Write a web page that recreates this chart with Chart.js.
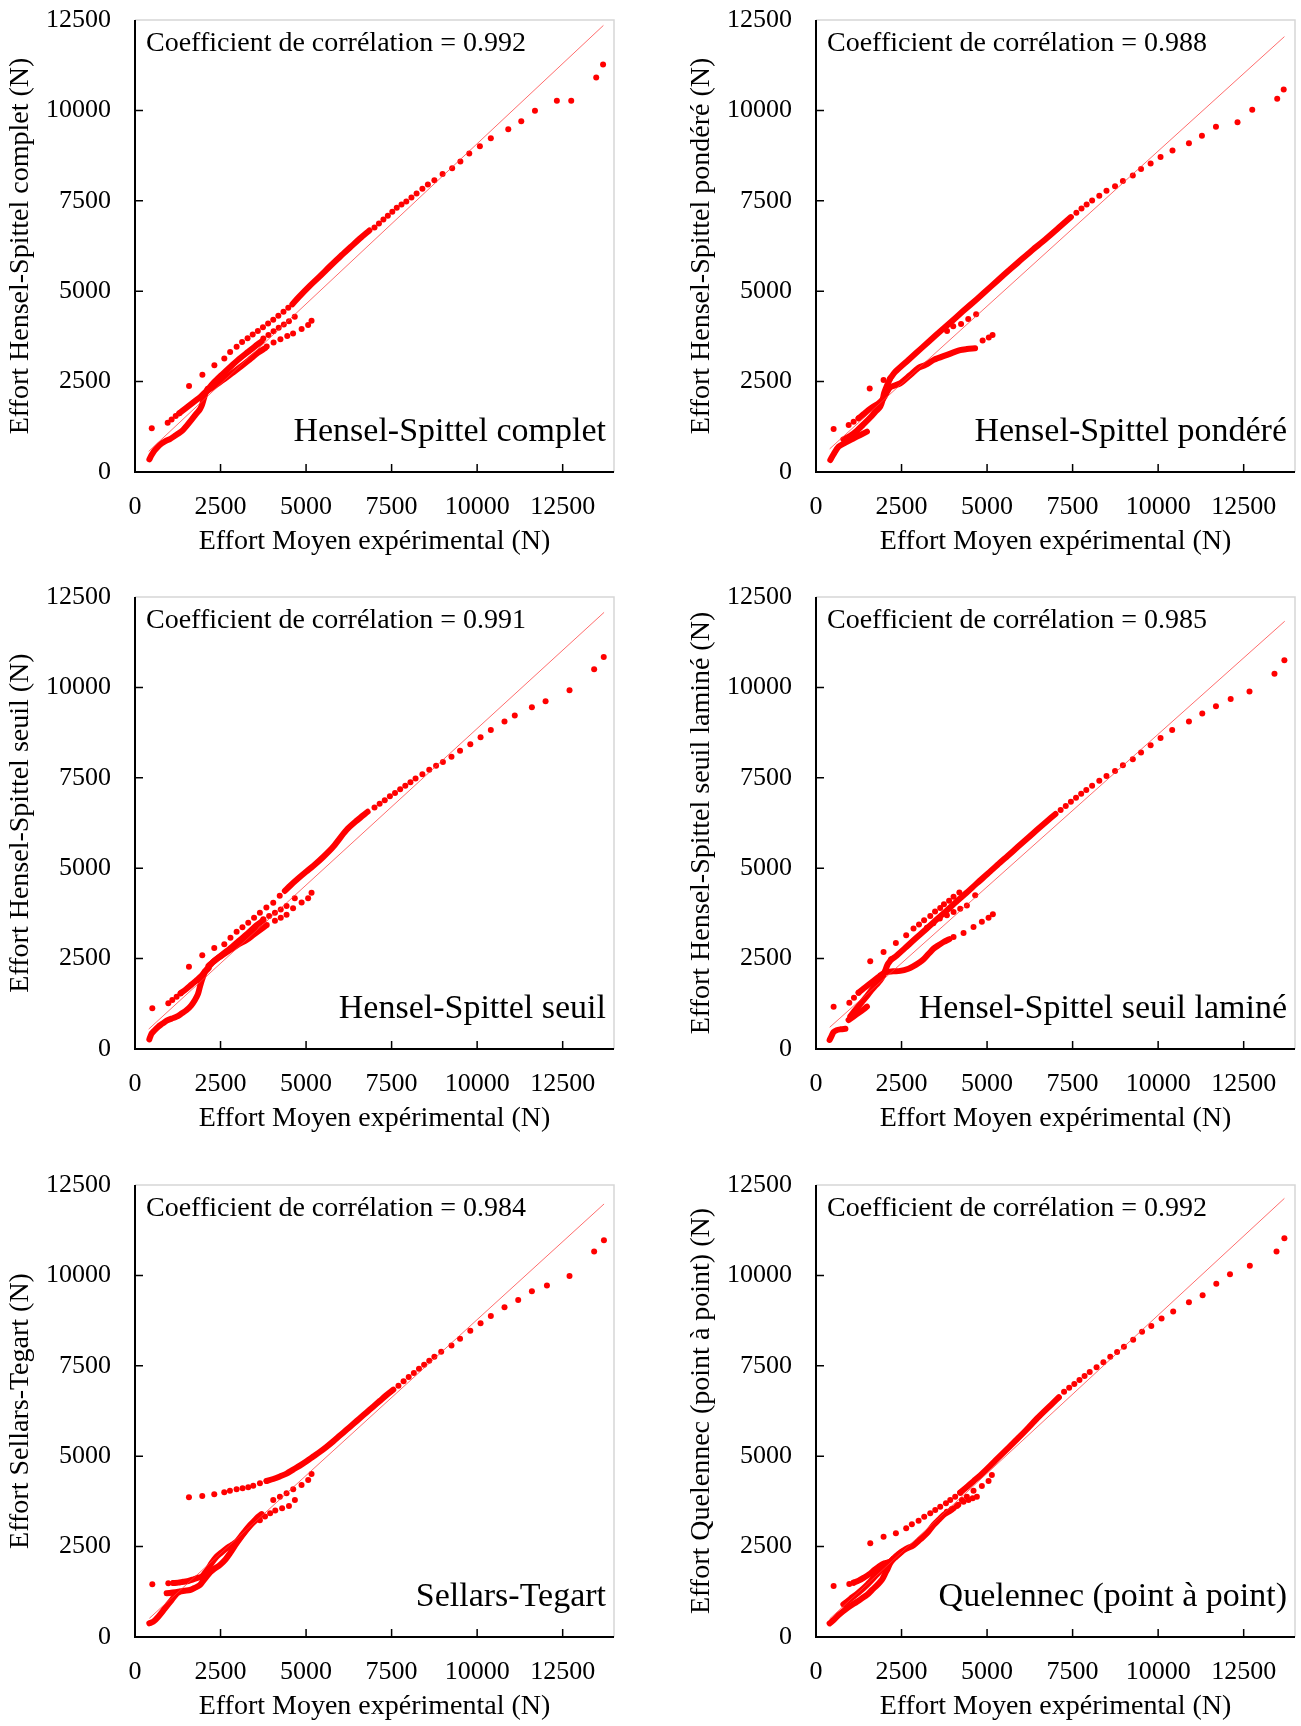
<!DOCTYPE html>
<html>
<head>
<meta charset="utf-8">
<script src="https://cdn.jsdelivr.net/npm/chart.js@4"></script>
<style>
  html, body { margin: 0; padding: 0; background: #fff; overflow: hidden; }
  canvas { position: absolute; }
</style>
</head>
<body>
<canvas id="c1" width="620" height="560" style="left:0;top:0"></canvas>
<canvas id="c2" width="620" height="560" style="left:681px;top:0"></canvas>
<canvas id="c3" width="620" height="560" style="left:0;top:577px"></canvas>
<canvas id="c4" width="620" height="560" style="left:681px;top:577px"></canvas>
<canvas id="c5" width="620" height="560" style="left:0;top:1165px"></canvas>
<canvas id="c6" width="620" height="560" style="left:681px;top:1165px"></canvas>
<script>
// axis ticks
const xTicks = [0, 2500, 5000, 7500, 10000, 12500];
const yTicks = [0, 2500, 5000, 7500, 10000, 12500];

// ---- Hensel-Spittel complet ----
const hscFit = [[400, 570], [13690, 12350]];
const hscDots = [[490,1210],[955,1365],[1070,1455],[1190,1550],[1295,1625],
  [1580,2380],[1970,2690],[2320,2950],[2610,3140],[2780,3320],[2970,3465],[3130,3595],[3290,3700],[3440,3800],[3590,3900],[3740,4000],[3890,4110],[4040,4210],[4190,4320],[4340,4430],[4480,4540]];
const hscMidDots = [[3750,3690],[3900,3790],[4050,3890],[4200,3990],[4350,4080],[4500,4170],[4670,4290]];
const hscLowDots = [[3850,3470],[4050,3580],[4250,3670],[4450,3760],[4620,3830],[4870,3955],[5060,4065],[5160,4185]];
const hscTail = [[7000,6760],[7130,6870],[7260,6980],[7390,7090],[7520,7200],[7650,7310],[7790,7400],[7930,7480],[8080,7590],[8230,7700],[8400,7830],[8560,7950],[8750,8070],[8990,8240],[9270,8400],[9510,8590],[9770,8810],[10080,9010],[10400,9230],[10910,9480],[11290,9700],[11690,9990],[12330,10270],[12750,10270],[13480,10910],[13680,11270]];
const hscLower = [[420,350],[480,460],[560,580],[660,690],[780,790],[900,860],[1020,910],[1150,990],[1280,1070],[1400,1160],[1520,1290],[1650,1440],[1800,1620],[1900,1740],[1960,1860],[2010,2020],[2060,2170],[2120,2300]];
const hscLeft = [[1295,1625],[1450,1740],[1600,1850],[1750,1960],[1900,2070],[2020,2180],[2100,2240]];
const hscMain = [[2100,2250],[2300,2470],[2550,2700],[2800,2920],[3050,3130],[3300,3320],[3500,3470],[3700,3610]];
const hscLow = [[2100,2230],[2350,2400],[2600,2560],[2850,2740],[3100,2920],[3350,3110],[3600,3300],[3800,3420]];
const hscUpper = [[4600,4640],[4800,4850],[5100,5140],[5400,5410],[5700,5690],[6000,5960],[6300,6220],[6600,6480],[6850,6680]];

// ---- Hensel-Spittel pondéré ----
const hspFit = [[400, 640], [13690, 12040]];
const hspDots = [[515,1190],[955,1300],[1100,1390],[1245,1485],[1570,2310],[1975,2545]];
const hspMidDots = [[3830,3900],[4010,4030],[4240,4090],[4450,4230],[4680,4360]];
const hspLowDots = [[4870,3640],[5050,3720],[5160,3790]];
const hspTail = [[7610,7170],[7760,7290],[7910,7400],[8070,7510],[8280,7640],[8490,7780],[8740,7900],[8970,8050],[9260,8200],[9500,8380],[9780,8530],[10070,8710],[10420,8890],[10900,9090],[11280,9300],[11690,9550],[12320,9670],[12750,10020],[13480,10320],[13670,10580]];
const hspLowest = [[418,332],[520,500],[661,700],[857,811],[1102,931],[1295,1023],[1489,1115]];
const hspSCurve = [[800,900],[1000,1000],[1200,1150],[1400,1330],[1600,1520],[1750,1680],[1880,1810],[1950,2000],[1990,2180],[2080,2400],[2170,2590]];
const hspLeft = [[1245,1485],[1390,1600],[1530,1710],[1680,1810],[1830,1900],[1975,2040],[2170,2340],[2460,2450],[2750,2680],[3000,2880],[3200,2960],[3440,3100],[3830,3240],[4210,3370],[4410,3400],[4650,3420]];
const hspUpper = [[2170,2590],[2320,2775],[2700,3100],[3100,3440],[3500,3780],[3900,4110],[4300,4450],[4700,4780],[5100,5120],[5500,5460],[5900,5790],[6300,6120],[6700,6430],[7100,6760],[7450,7050]];

// ---- Hensel-Spittel seuil ----
const hssFit = [[400, 550], [13710, 12075]];
const hssDots = [[506,1125],[974,1263],[1090,1355],[1217,1447],[1334,1539],
  [1577,2277],[1966,2590],[2317,2790],[2610,2900],[2790,3080],[2970,3245],[3140,3370],[3310,3494],[3480,3630],[3650,3771],[3840,3910],[4040,4047],[4230,4240]];
const hssMidDots = [[3750,3590],[3920,3680],[4090,3770],[4260,3860],[4430,3955],[4670,4170]];
const hssLowDots = [[3850,3430],[4090,3550],[4260,3630],[4430,3710],[4620,3890],[4870,4050],[5060,4170],[5160,4320]];
const hssTail = [[7000,6680],[7150,6780],[7300,6880],[7450,6990],[7600,7080],[7750,7180],[7900,7280],[8050,7380],[8200,7480],[8400,7600],[8600,7720],[8800,7830],[9000,7940],[9250,8080],[9500,8250],[9800,8430],[10100,8620],[10400,8820],[10800,9060],[11100,9220],[11600,9450],[12000,9620],[12700,9920],[13420,10500],[13700,10840]];
const hssLower = [[419,267],[480,420],[535,480],[681,618],[800,700],[925,784],[1070,840],[1217,894],[1360,980],[1509,1079],[1640,1200],[1752,1355],[1840,1520],[1898,1724],[1960,1920],[2044,2139]];
const hssLeft = [[1334,1539],[1500,1660],[1650,1780],[1800,1900],[1950,2030],[2044,2139],[2150,2230]];
const hssMain = [[2044,2139],[2288,2415],[2500,2560],[2775,2738],[3000,2880],[3261,3014],[3450,3150],[3651,3291],[3800,3390]];
const hssMain2 = [[2150,2300],[2400,2500],[2700,2720],[3000,2960],[3300,3200],[3550,3420],[3750,3560]];
const hssUpper = [[4380,4370],[4550,4530],[4750,4700],[5000,4900],[5208,5060],[5500,5310],[5800,5600],[6182,6056],[6500,6330],[6800,6560]];

// ---- Hensel-Spittel seuil laminé ----
const hslFit = [[400, 600], [13700, 11830]];
const hslDots = [[515,1171],[974,1281],[1110,1420],[1245,1558],
  [1585,2424],[1974,2682],[2334,2931],[2636,3143],[2850,3330],[3010,3440],[3160,3560],[3340,3680],[3480,3800],[3630,3900],[3740,4000],[3890,4100],[4020,4210],[4190,4330]];
const hslMidDots = [[3241,3355],[3430,3480],[3620,3610],[3825,3700],[4020,3789],[4215,3880],[4410,3970],[4652,4250]];
const hslLowDots = [[4020,3097],[4312,3208],[4604,3374],[4848,3521],[5043,3632],[5169,3724]];
const hslTail = [[7150,6610],[7300,6720],[7450,6840],[7600,6950],[7750,7060],[7900,7160],[8070,7280],[8280,7420],[8490,7550],[8740,7690],[8970,7850],[9260,8010],[9500,8200],[9780,8400],[10070,8600],[10410,8820],[10900,9060],[11290,9280],[11690,9480],[12120,9680],[12670,9890],[13400,10380],[13690,10750]];
const hslLowest = [[398,249],[460,370],[515,470],[600,520],[720,545],[860,560]];
const hslChunk = [[952,802],[1100,900],[1250,1000],[1380,1090],[1489,1171]];
const hslSCurve = [[1001,900],[1150,1080],[1300,1250],[1450,1420],[1600,1600],[1750,1760],[1880,1900],[1970,2040],[2024,2176],[2100,2350],[2200,2480]];
const hslLeft = [[1245,1558],[1400,1680],[1550,1790],[1700,1900],[1850,2010],[2024,2120],[2250,2150],[2462,2160],[2700,2220],[2852,2290],[3000,2380],[3144,2480],[3300,2640],[3436,2775],[3600,2880],[3728,2959],[3900,3040]];
const hslUpper = [[2200,2480],[2317,2550],[2600,2790],[2900,3050],[3200,3300],[3500,3560],[3800,3810],[4100,4070],[4400,4320],[4700,4580],[5000,4830],[5300,5090],[5600,5340],[5900,5590],[6200,5840],[6453,6056],[6750,6300],[7000,6500]];

// ---- Sellars-Tegart ----
const stFit = [[419, 516], [13710, 11976]];
const stDots = [[506,1457],[974,1484],[1120,1493],
  [1577,3862],[1966,3899],[2317,3945],[2609,4001],[2775,4047],[2969,4084],[3144,4111],[3310,4139],[3456,4185],[3651,4250],[3845,4314]];
const stMidDots = [[4040,3789],[4235,3881],[4430,3973],[4624,4084],[4868,4203],[5062,4342],[5160,4508]];
const stLowDots = [[3650,3230],[3800,3330],[3950,3420],[4100,3500],[4300,3560],[4500,3620],[4673,3789]];
const stTail = [[7700,6950],[7850,7070],[8000,7190],[8150,7300],[8300,7420],[8450,7530],[8600,7640],[8750,7750],[8950,7890],[9250,8060],[9500,8250],[9800,8470],[10100,8680],[10400,8880],[10800,9120],[11200,9320],[11600,9560],[12040,9720],[12700,9980],[13420,10660],[13706,10970]];
const stLowest = [[419,378],[535,424],[681,562],[876,793],[1071,1023],[1200,1180],[1300,1250]];
const stRun = [[925,1208],[1100,1230],[1266,1254],[1450,1280],[1606,1300],[1750,1360],[1898,1438],[2000,1560],[2093,1669],[2200,1790],[2300,1870],[2482,1991],[2650,2150],[2775,2314],[2969,2590],[3261,2959],[3553,3282],[3700,3400]];
const stFlat = [[1120,1493],[1266,1503],[1412,1530],[1560,1550],[1700,1590],[1850,1640],[1947,1669],[2050,1780],[2142,1899],[2250,2060],[2385,2222],[2530,2340],[2677,2452],[2820,2540],[2969,2636],[3150,2850],[3350,3080],[3550,3250]];
const stArc = [[3845,4314],[4040,4369],[4235,4440],[4430,4520],[4624,4630],[4819,4740],[5014,4860],[5208,4990],[5403,5120],[5598,5260],[5793,5410],[5987,5570],[6182,5730],[6377,5890],[6572,6050],[6766,6210],[6961,6370],[7156,6530],[7350,6690],[7550,6840]];

// ---- Quelennec (point à point) ----
const qpFit = [[398, 500], [13690, 12130]];
const qpDots = [[515,1410],[973,1466],[1099,1503],
  [1586,2590],[1975,2775],[2335,2867],[2636,3005],[2802,3115],[2998,3217],[3163,3328],[3339,3420],[3485,3512],[3631,3604],[3797,3697],[3923,3789],[4068,3881],[4214,3992]];
const qpMidDots = [[3825,3466],[3970,3540],[4117,3623],[4263,3789],[4409,3881],[4604,4047],[4848,4176],[5043,4314],[5140,4480]];
const qpLowDots = [[4160,3660],[4312,3743],[4458,3789],[4580,3840],[4702,3881]];
const qpTail = [[7250,6780],[7400,6890],[7550,7000],[7700,7110],[7850,7220],[8000,7330],[8200,7460],[8400,7600],[8600,7750],[8800,7880],[9000,8030],[9270,8220],[9530,8440],[9800,8600],[10100,8810],[10440,9000],[10900,9260],[11300,9450],[11700,9770],[12100,10030],[12680,10270],[13460,10660],[13690,11030]];
const qpLower = [[398,378],[515,470],[661,608],[905,793],[1197,977],[1489,1162],[1635,1300],[1750,1400],[1878,1530],[1950,1620],[2024,1761],[2100,1900],[2169,2037],[2250,2150]];
const qpStraight = [[800,900],[1000,1050],[1245,1230],[1500,1450],[1750,1700],[2000,1950],[2169,2083]];
const qpLeft = [[1099,1503],[1245,1558],[1400,1640],[1550,1730],[1700,1850],[1850,1960],[2000,2040],[2169,2083],[2350,2230],[2500,2350]];
const qpMain = [[2169,2083],[2400,2290],[2600,2420],[2852,2540],[3050,2700],[3242,2867],[3436,3100],[3600,3250],[3728,3374],[3900,3480],[4020,3558]];
const qpUpper = [[4214,3992],[4409,4150],[4604,4310],[4799,4470],[5000,4650],[5300,4930],[5600,5210],[5900,5490],[6200,5780],[6500,6080],[6937,6480],[7100,6630]];

const RED = '#ff0000';
const FONT = 'Liberation Serif';
const pts = arr => arr.map(([x, y]) => ({ x, y }));

function band(arr) {
  return { type: 'line', data: pts(arr), borderColor: RED, borderWidth: 6, pointRadius: 0,
           tension: 0.3, borderCapStyle: 'round', borderJoinStyle: 'round', order: 2 };
}
function dots(arr) {
  return { type: 'scatter', data: pts(arr), backgroundColor: RED, borderWidth: 0, pointRadius: 3, order: 1 };
}
function fit(arr) {
  return { type: 'line', data: pts(arr), borderColor: 'rgba(255,60,60,0.75)', borderWidth: 1, pointRadius: 0, order: 0 };
}

// frame, inward ticks and the two captions
const framePlugin = {
  id: 'frame',
  afterDraw(chart, args, opts) {
    const { ctx, chartArea: a, scales: { x, y } } = chart;
    ctx.save();
    ctx.strokeStyle = '#d6d6d6';
    ctx.lineWidth = 1.5;
    ctx.beginPath();
    ctx.moveTo(a.left, a.top); ctx.lineTo(a.right, a.top); ctx.lineTo(a.right, a.bottom);
    ctx.stroke();

    ctx.strokeStyle = '#000';
    ctx.lineWidth = 2;
    ctx.beginPath();
    ctx.moveTo(a.left, a.top); ctx.lineTo(a.left, a.bottom); ctx.lineTo(a.right, a.bottom);
    ctx.stroke();

    ctx.lineWidth = 1.5;
    ctx.beginPath();
    xTicks.slice(1).forEach(v => {
      const px = x.getPixelForValue(v);
      ctx.moveTo(px, a.bottom); ctx.lineTo(px, a.bottom - 8);
    });
    yTicks.slice(1, -1).forEach(v => {
      const py = y.getPixelForValue(v);
      ctx.moveTo(a.left, py); ctx.lineTo(a.left + 8, py);
    });
    ctx.stroke();

    ctx.fillStyle = '#000';
    ctx.textBaseline = 'middle';
    ctx.font = '28px "' + FONT + '"';
    ctx.textAlign = 'left';
    ctx.fillText(opts.coef, a.left + 11, a.top + 24);
    ctx.font = '34px "' + FONT + '"';
    ctx.textAlign = 'right';
    ctx.fillText(opts.name, a.right - 8, a.bottom - 40);
    ctx.restore();
  }
};

function makePanel(id, yTitle, name, coef, datasets) {
  new Chart(document.getElementById(id), {
    type: 'scatter',
    data: { datasets },
    options: {
      responsive: false,
      animation: false,
      layout: { padding: { top: 20, right: 6, left: 0, bottom: 0 } },
      plugins: {
        legend: { display: false },
        tooltip: { enabled: false },
        frame: { coef, name }
      },
      scales: {
        x: {
          type: 'linear', min: 0, max: 14000,
          afterFit(s) { s.height = 88; },
          afterBuildTicks(s) { s.ticks = xTicks.map(v => ({ value: v })); },
          grid: { display: false, drawTicks: false },
          border: { display: false },
          ticks: { color: '#000', font: { family: FONT, size: 26 }, padding: 20, maxRotation: 0, autoSkip: false,
                   callback: v => String(v) },
          title: { display: true, text: 'Effort Moyen expérimental (N)', color: '#000',
                   font: { family: FONT, size: 28 }, padding: { top: 0, bottom: 2 } }
        },
        y: {
          type: 'linear', min: 0, max: 12500,
          afterFit(s) { s.width = 135; s.paddingTop = 0; s.paddingBottom = 0; },
          afterBuildTicks(s) { s.ticks = yTicks.map(v => ({ value: v })); },
          grid: { display: false, drawTicks: false },
          border: { display: false },
          ticks: { color: '#000', font: { family: FONT, size: 26 }, padding: 24, autoSkip: false,
                   callback: v => String(v) },
          title: { display: true, text: yTitle, color: '#000',
                   font: { family: FONT, size: 28 }, padding: { top: 4, bottom: 0 } }
        }
      }
    },
    plugins: [framePlugin]
  });
}

makePanel('c1', 'Effort Hensel-Spittel complet (N)', 'Hensel-Spittel complet', 'Coefficient de corrélation = 0.992', [
  fit(hscFit), band(hscLower), band(hscLeft), band(hscMain), band(hscLow), band(hscUpper),
  dots(hscDots), dots(hscMidDots), dots(hscLowDots), dots(hscTail)
]);
makePanel('c2', 'Effort Hensel-Spittel pondéré (N)', 'Hensel-Spittel pondéré', 'Coefficient de corrélation = 0.988', [
  fit(hspFit), band(hspLowest), band(hspSCurve), band(hspLeft), band(hspUpper),
  dots(hspDots), dots(hspMidDots), dots(hspLowDots), dots(hspTail)
]);
makePanel('c3', 'Effort Hensel-Spittel seuil (N)', 'Hensel-Spittel seuil', 'Coefficient de corrélation = 0.991', [
  fit(hssFit), band(hssLower), band(hssLeft), band(hssMain), band(hssMain2), band(hssUpper),
  dots(hssDots), dots(hssMidDots), dots(hssLowDots), dots(hssTail)
]);
makePanel('c4', 'Effort Hensel-Spittel seuil laminé (N)', 'Hensel-Spittel seuil laminé', 'Coefficient de corrélation = 0.985', [
  fit(hslFit), band(hslLowest), band(hslChunk), band(hslSCurve), band(hslLeft), band(hslUpper),
  dots(hslDots), dots(hslMidDots), dots(hslLowDots), dots(hslTail)
]);
makePanel('c5', 'Effort Sellars-Tegart (N)', 'Sellars-Tegart', 'Coefficient de corrélation = 0.984', [
  fit(stFit), band(stLowest), band(stRun), band(stFlat), band(stArc),
  dots(stDots), dots(stMidDots), dots(stLowDots), dots(stTail)
]);
makePanel('c6', 'Effort Quelennec (point à point) (N)', 'Quelennec (point à point)', 'Coefficient de corrélation = 0.992', [
  fit(qpFit), band(qpLower), band(qpStraight), band(qpLeft), band(qpMain), band(qpUpper),
  dots(qpDots), dots(qpMidDots), dots(qpLowDots), dots(qpTail)
]);
</script>
</body>
</html>
